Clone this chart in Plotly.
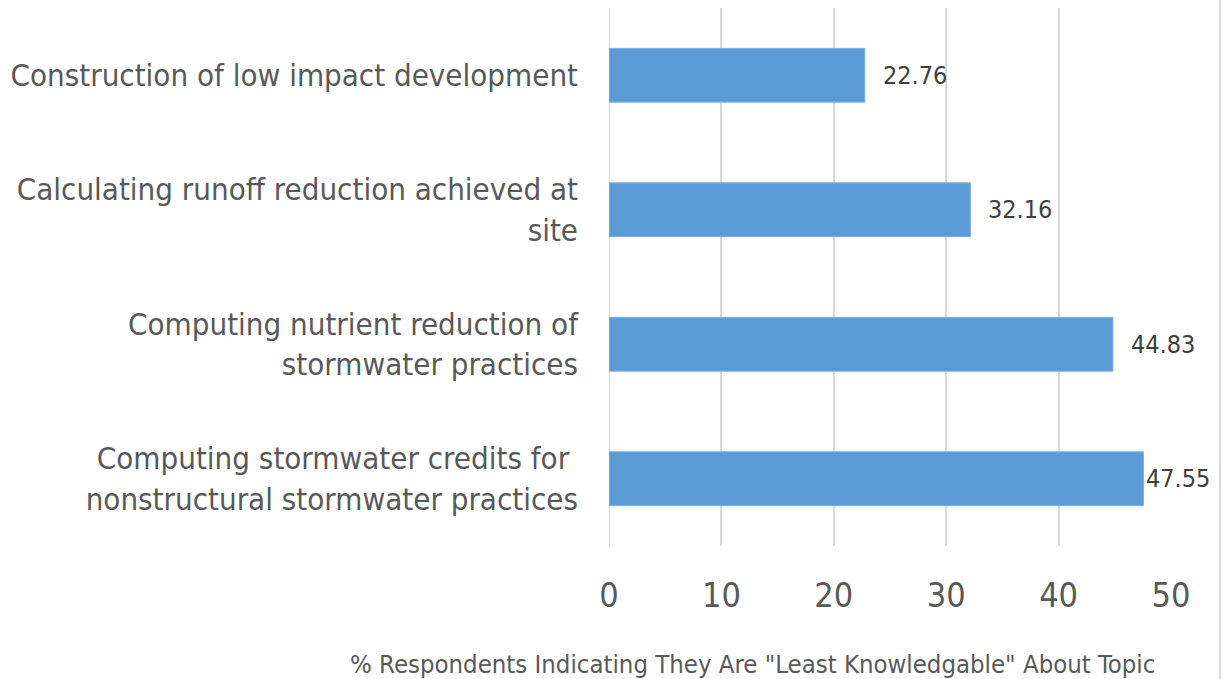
import plotly.graph_objects as go

categories = [
    "Computing stormwater credits for <br>nonstructural stormwater practices",
    "Computing nutrient reduction of<br>stormwater practices",
    "Calculating runoff reduction achieved at<br>site",
    "Construction of low impact development",
]
values = [47.55, 44.83, 32.16, 22.76]
label_shift = [1, 16, 16, 16]
x_ticks = [0, 10, 20, 30, 40, 50]

FONT = "Tahoma, 'DejaVu Sans Condensed', 'Liberation Sans Narrow', sans-serif"

W, H = 1225, 679
ML, MR, MT, MB = 609, 54, 8, 133

fig = go.Figure(go.Bar(
    y=categories, x=values, orientation="h",
    marker=dict(color="#5B9BD5", line=dict(color="#7EB2E0", width=1)),
    width=0.4, hoverinfo="skip",
))

for c, v, s in zip(categories, values, label_shift):
    fig.add_annotation(x=v, y=c, text=f"{v:.2f}", showarrow=False,
                       xanchor="left", yanchor="middle", xshift=s,
                       font=dict(family=FONT, size=25, color="#404040"))

pw = W - ML - MR
ph = H - MT - MB
fig.add_annotation(x=(752 - ML) / pw, xref="paper",
                   y=(H - MB - 664) / ph, yref="paper",
                   text='% Respondents Indicating They Are "Least Knowledgable" About Topic',
                   showarrow=False, xanchor="center", yanchor="middle",
                   font=dict(family=FONT, size=25.5, color="#595959"))

fig.update_layout(
    width=W, height=H,
    margin=dict(l=ML, r=MR, t=MT, b=MB),
    plot_bgcolor="white", paper_bgcolor="white",
    showlegend=False,
    font=dict(family=FONT),
    xaxis=dict(range=[0, 50], tickvals=x_ticks, showgrid=True,
               gridcolor="#D9D9D9", gridwidth=2, zeroline=False,
               showline=False, ticks="",
               tickfont=dict(family=FONT, size=34, color="#595959"),
               ticklabelstandoff=26),
    yaxis=dict(categoryorder="array", categoryarray=categories,
               showgrid=False, zeroline=False, showline=False, ticks="",
               tickfont=dict(family=FONT, size=31, color="#595959"),
               ticklabelstandoff=30),
)

fig.add_shape(type="line", xref="x", yref="paper", x0=0, x1=0, y0=0, y1=1,
              line=dict(color="#D9D9D9", width=2), layer="below")

# chart border on the right edge
bx = (1220 - ML) / pw
fig.add_shape(type="line", xref="paper", yref="paper", x0=bx, x1=bx,
              y0=-MB / ph, y1=(ph + MT) / ph,
              line=dict(color="#D9D9D9", width=2))

fig.write_html("out.html", post_script="document.body.style.margin='0';",
               config={"displayModeBar": False})
